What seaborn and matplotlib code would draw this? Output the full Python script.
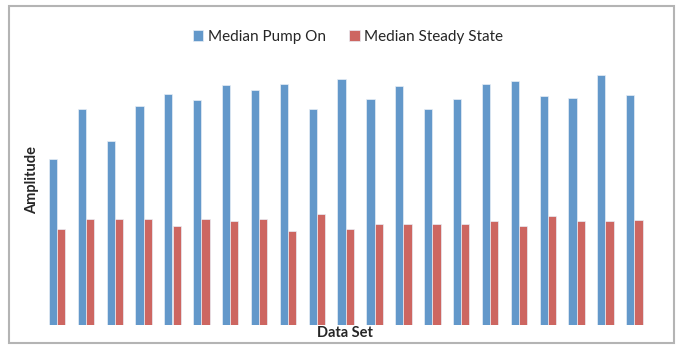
import numpy as np
import pandas as pd
import seaborn as sns
import matplotlib.pyplot as plt
from matplotlib.patches import Rectangle

# Giá trị (đơn vị tương đối)
data_sets = [str(i) for i in range(1, 22)]
pump_on = [166, 216, 184, 219, 231, 225, 240, 235, 241, 216, 246,
           226, 239, 216, 226, 241, 244, 229, 227, 250, 230]
steady_state = [96, 106, 106, 106, 99, 106, 104, 106, 94, 111, 96,
                101, 101, 101, 101, 104, 99, 109, 104, 104, 105]
series_names = ["Median Pump On", "Median Steady State"]
colors = ["#6398CA", "#CD6661"]

df = pd.DataFrame({
    "Data Set": data_sets * 2,
    "Amplitude": pump_on + steady_state,
    "series": [series_names[0]] * len(data_sets) + [series_names[1]] * len(data_sets),
})

sns.set_style("white")
plt.rcParams['font.family'] = ['Lato', 'DejaVu Sans']

W, H = 679, 345
fig = plt.figure(figsize=(W / 100, H / 100), dpi=100)
ax = fig.add_axes([42.6 / W, 20 / H, (648.8 - 42.6) / W, 300 / H])

sns.barplot(data=df, x="Data Set", y="Amplitude", hue="series",
            palette=colors, saturation=1, width=0.57, ax=ax,
            edgecolor="#e8eef6", linewidth=0.5, legend=True)

ax.set_ylim(0, 300)
ax.set_xlim(-0.5, len(data_sets) - 0.5)
ax.set_xticks([])
ax.set_yticks([])
for s in ax.spines.values():
    s.set_visible(False)
ax.set_xlabel("")
ax.set_ylabel("")

handles, labels = ax.get_legend_handles_labels()
ax.get_legend().remove()
fig.legend(handles, labels, loc="center", bbox_to_anchor=(348 / W, 1 - 37 / H),
           ncol=2, frameon=False, fontsize=11, handlelength=0.7,
           handleheight=0.7, handletextpad=0.3, columnspacing=1.5)

fig.text(32 / W, 1 - 180 / H, "Amplitude", rotation=90, ha="center", va="center",
         fontsize=10.5, fontweight="bold")
fig.text(345 / W, 1 - 333 / H, "Data Set", ha="center", va="center",
         fontsize=10.5, fontweight="bold")

# khung viền ngoài
fig.patches.append(Rectangle((9 / W, 2 / H), 665 / W, 337 / H, transform=fig.transFigure,
                             fill=False, edgecolor="#b4b4b4", linewidth=1.5))

fig.savefig("out.png", dpi=100)
